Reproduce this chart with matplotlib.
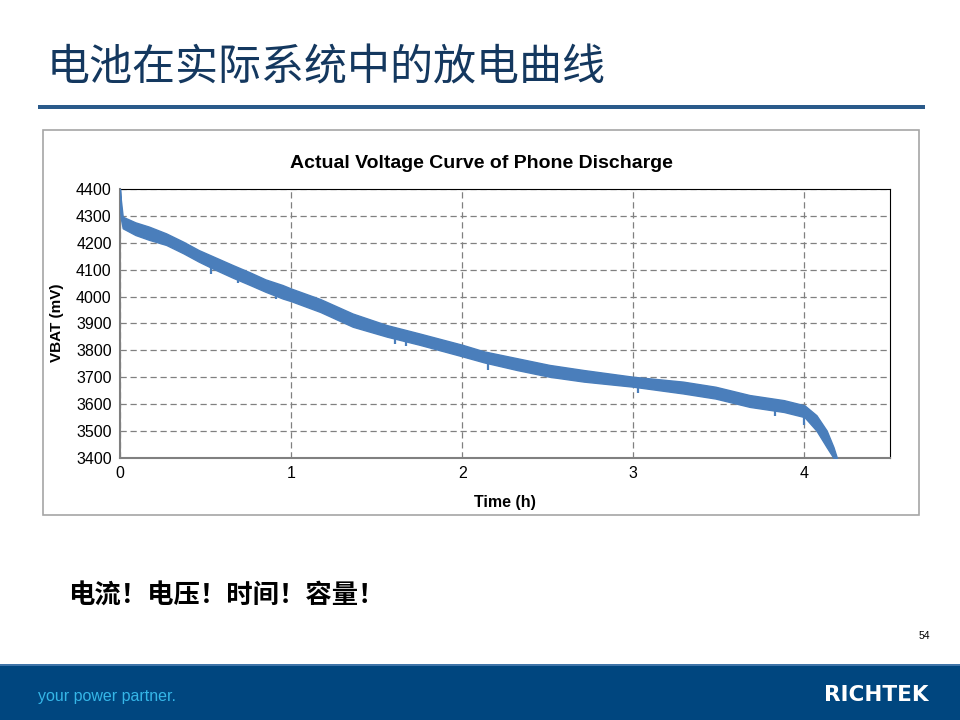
import matplotlib.pyplot as plt
import matplotlib.patches as patches
import numpy as np

plt.rcParams['font.family'] = ['Liberation Sans', 'DejaVu Sans']

# Discharge band (upper / lower edge of the noisy trace)
t_hours = [0, 0.005, 0.016, 0.09, 0.17, 0.27, 0.37, 0.46, 0.56, 0.66, 0.76, 0.85,
           0.95, 1.0, 1.17, 1.36, 1.56, 1.75, 2.0, 2.13, 2.32, 2.51, 2.71, 3.0,
           3.29, 3.48, 3.68, 3.88, 4.0, 4.07, 4.13, 4.17, 4.19]
vbat_upper = [4400, 4360, 4297, 4276, 4260, 4235, 4204, 4173, 4145, 4117, 4090, 4064,
              4043, 4030, 3991, 3937, 3894, 3863, 3821, 3796, 3771, 3746, 3727, 3702,
              3684, 3665, 3634, 3615, 3596, 3559, 3502, 3440, 3400]
vbat_lower = [4330, 4290, 4254, 4229, 4211, 4192, 4161, 4130, 4099, 4070, 4043, 4018,
              3993, 3983, 3943, 3888, 3851, 3821, 3778, 3755, 3727, 3702, 3684, 3665,
              3640, 3621, 3590, 3571, 3552, 3502, 3440, 3400, 3400]

# Short downward glitches visible below the band
dip_t = [0.53, 0.69, 0.91, 1.61, 1.67, 2.15, 3.03, 3.83, 4.0]
dip_v = [4083, 4050, 3990, 3825, 3815, 3727, 3642, 3555, 3521]

y_ticks = [3400, 3500, 3600, 3700, 3800, 3900, 4000, 4100, 4200, 4300, 4400]
x_ticks = [0, 1, 2, 3, 4]

slide_title = "电池在实际系统中的放电曲线"
chart_title = "Actual Voltage Curve of Phone Discharge"
note = "电流！电压！时间！容量！"

W, H = 960, 720
fig = plt.figure(figsize=(9.6, 7.2), dpi=100)
fig.patch.set_facecolor('white')

def fx(px):
    return px / W

def fy(py):
    return 1 - py / H

# slide title + rule
fig.text(fx(47), fy(68), slide_title, fontsize=31, color='#14385f', fontweight='medium',
         family=['Noto Sans CJK SC', 'DejaVu Sans'], va='center', ha='left')
fig.add_artist(patches.Rectangle((fx(38), fy(109)), fx(925 - 38), 4 / H,
                                 transform=fig.transFigure, color='#2a5a8a', lw=0))

# chart frame (behind the axes)
fig.add_artist(patches.Rectangle((fx(43), fy(515)), fx(919 - 43), (515 - 130) / H,
                                 transform=fig.transFigure, facecolor='white',
                                 edgecolor='#a6a6a6', lw=1.2, zorder=-5))

ax = fig.add_axes([fx(120), fy(458), fx(890 - 120), (458 - 189) / H])
ax.set_zorder(2)
ax.fill_between(t_hours, vbat_lower, vbat_upper, color='#4a7ebb', lw=1.0,
                edgecolor='#4a7ebb', zorder=3)
dip_base = np.interp(dip_t, t_hours, vbat_lower) + 8
ax.vlines(dip_t, dip_v, dip_base, color='#4a7ebb', lw=1.6, zorder=3)

ax.set_xlim(0, 4.5)
ax.set_ylim(3400, 4400)
ax.set_xticks(x_ticks)
ax.set_yticks(y_ticks)
ax.tick_params(length=0, labelsize=11.5, pad=6)
ax.grid(True, linestyle=(0, (5, 3)), color='#808080', lw=0.9)
for s in ['top', 'right']:
    ax.spines[s].set_color('black')
for s in ['left', 'bottom']:
    ax.spines[s].set_color('#808080')
    ax.spines[s].set_linewidth(1.5)
ax.set_axisbelow(True)

fig.text(fx(481), fy(163), chart_title, fontsize=14, fontweight='bold',
         ha='center', va='center', family=['Liberation Sans Narrow', 'Liberation Sans'])
fig.text(fx(57), fy(323), "VBAT (mV)", fontsize=11, fontweight='bold', rotation=90,
         ha='center', va='center')
fig.text(fx(505), fy(502), "Time (h)", fontsize=11.5, fontweight='bold',
         ha='center', va='center', family=['Liberation Sans Narrow', 'Liberation Sans'])

# note under the chart
fig.text(fx(68), fy(595), note, fontsize=19, color='black', fontweight='bold',
         family=['Noto Sans CJK SC', 'DejaVu Sans'], va='center', ha='left')

fig.text(fx(930), fy(636), "54", fontsize=7.5, ha='right', va='center')

# footer bar
fig.add_artist(patches.Rectangle((0, 0), 1, (720 - 664) / H, transform=fig.transFigure,
                                 color='#00467f', lw=0))
fig.add_artist(patches.Rectangle((0, fy(666)), 1, 2 / H, transform=fig.transFigure,
                                 color='#3f74a8', lw=0))
fig.text(fx(38), fy(697), "your power partner.", fontsize=11.5, color='#35b6e8',
         ha='left', va='center', family=['Liberation Sans Narrow', 'Liberation Sans'])
fig.text(fx(928), fy(695), "RICHTEK", fontsize=15.5, color='white', fontweight='bold',
         ha='right', va='center', family=['DejaVu Sans'])

fig.savefig("out.png", dpi=100)
